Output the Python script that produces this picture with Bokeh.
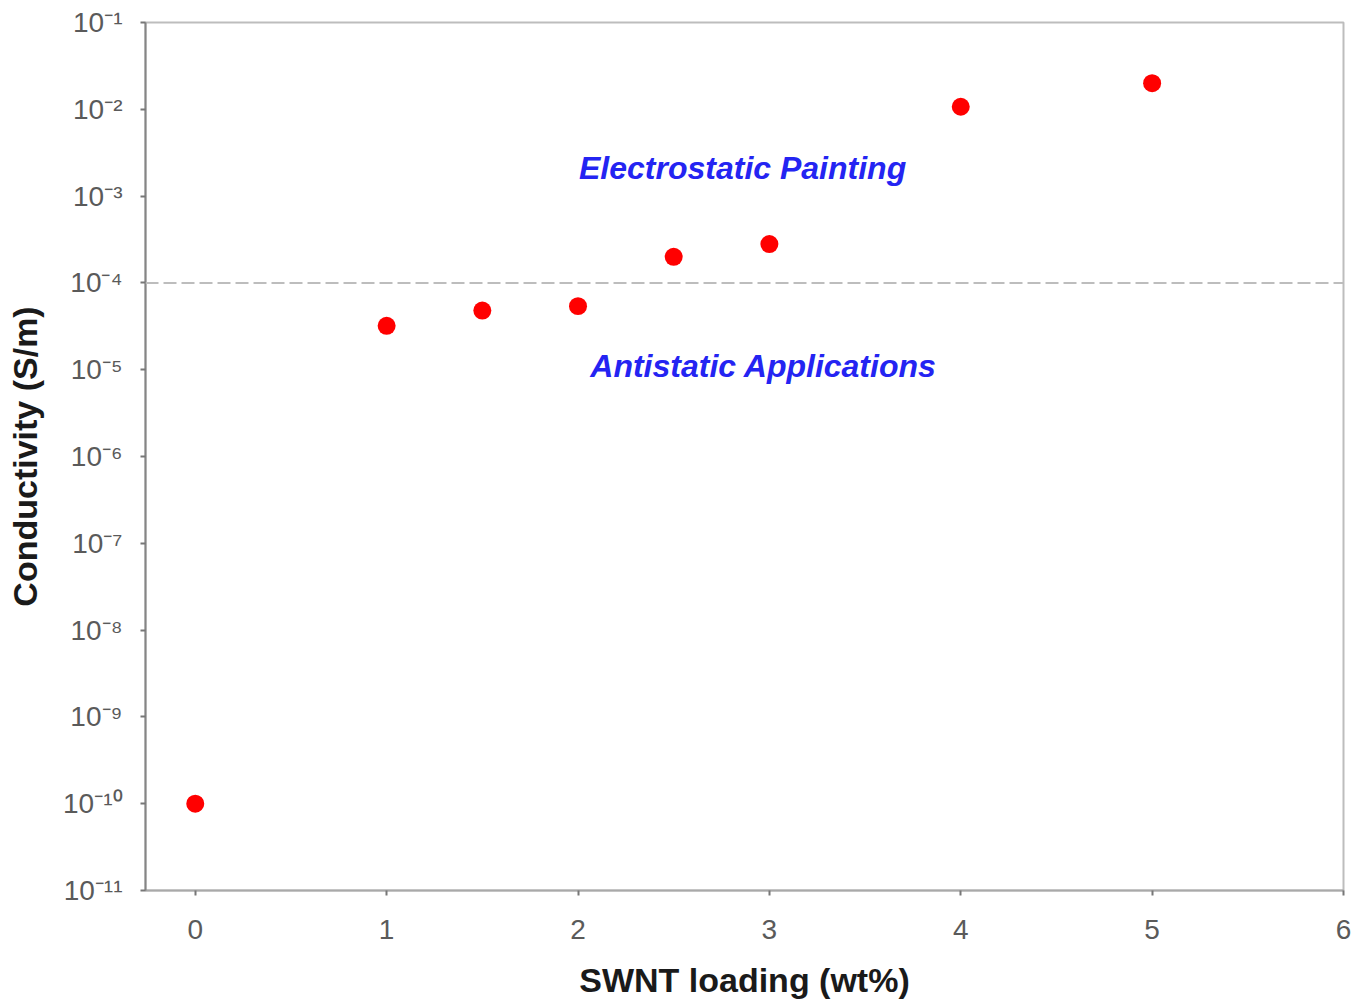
from bokeh.plotting import figure
from bokeh.models import Span, FixedTicker, CustomJSTickFormatter
from bokeh.embed import file_html
from bokeh.resources import INLINE
from bokeh.core.properties import value

# ---- data ----
swnt_loading = [0, 1, 1.5, 2, 2.5, 3, 4, 5]
conductivity = [1.0e-10, 3.2e-5, 4.8e-5, 5.4e-5, 2.0e-4, 2.8e-4, 1.07e-2, 2.0e-2]

x_ticks = [0, 1, 2, 3, 4, 5, 6]
y_exponents = [-11, -10, -9, -8, -7, -6, -5, -4, -3, -2, -1]
y_tick_labels = ["10⁻¹¹", "10⁻¹⁰", "10⁻⁹", "10⁻⁸", "10⁻⁷", "10⁻⁶",
                 "10⁻⁵", "10⁻⁴", "10⁻³", "10⁻²", "10⁻¹"]

threshold = 1e-4
region_labels = ["Electrostatic Painting", "Antistatic Applications"]
region_x = [2.86, 2.97]
region_y = [2.1e-3, 1.1e-5]

FONT = "Liberation Sans"

p = figure(width=1351, height=1003, x_range=(-0.26, 6.0), y_range=(1e-11, 1e-1),
           y_axis_type="log", output_backend="svg", toolbar_location=None,
           min_border_left=145, min_border_right=8, min_border_top=22,
           min_border_bottom=113)

p.background_fill_color = "white"
p.border_fill_color = "white"
p.grid.visible = False
p.outline_line_color = "#bdbdbd"
p.outline_line_width = 2

# threshold line
p.add_layout(Span(location=threshold, dimension="width", line_color="#bdbdbd",
                  line_width=2, line_dash="13 5"))

# points
p.scatter(swnt_loading, conductivity, size=18, fill_color="#ff0000", line_color=None)

# region labels
p.text(x=region_x, y=region_y, text=region_labels,
       text_font=value(FONT), text_font_style="bold italic", text_font_size="32px",
       text_color="#2424f2", text_align="center", text_baseline="middle")

# x axis
xa = p.xaxis[0]
xa.ticker = FixedTicker(ticks=x_ticks)
xa.axis_label = "SWNT loading (wt%)"
xa.axis_label_text_font = FONT
xa.axis_label_text_font_style = "bold"
xa.axis_label_text_font_size = "34px"
xa.axis_label_text_color = "#1a1a1a"
xa.axis_label_standoff = 19
xa.major_label_text_font = FONT
xa.major_label_text_font_size = "28px"
xa.major_label_text_color = "#5a5a5a"
xa.major_label_standoff = 24
xa.axis_line_color = "#a9a9a9"
xa.axis_line_width = 2
xa.major_tick_line_color = "#777777"
xa.major_tick_line_width = 2
xa.major_tick_out = 5
xa.major_tick_in = 0
xa.minor_tick_line_color = None

# y axis
ya = p.yaxis[0]
ya.ticker = FixedTicker(ticks=[10.0 ** e for e in y_exponents])
ya.formatter = CustomJSTickFormatter(
    args=dict(exps=y_exponents, labels=y_tick_labels),
    code="""
        const e = Math.round(Math.log10(tick));
        const i = exps.indexOf(e);
        return i >= 0 ? labels[i] : "";
    """)
ya.axis_label = "Conductivity (S/m)"
ya.axis_label_text_font = FONT
ya.axis_label_text_font_style = "bold"
ya.axis_label_text_font_size = "34px"
ya.axis_label_text_color = "#1a1a1a"
ya.axis_label_standoff = 16
ya.major_label_text_font = FONT
ya.major_label_text_font_size = "28px"
ya.major_label_text_color = "#5a5a5a"
ya.major_label_standoff = 18
ya.axis_line_color = "#858585"
ya.axis_line_width = 2
ya.major_tick_line_color = "#777777"
ya.major_tick_line_width = 2
ya.major_tick_out = 5
ya.major_tick_in = 0
ya.minor_tick_line_color = None

open("out.html", "w").write(file_html(p, INLINE))
